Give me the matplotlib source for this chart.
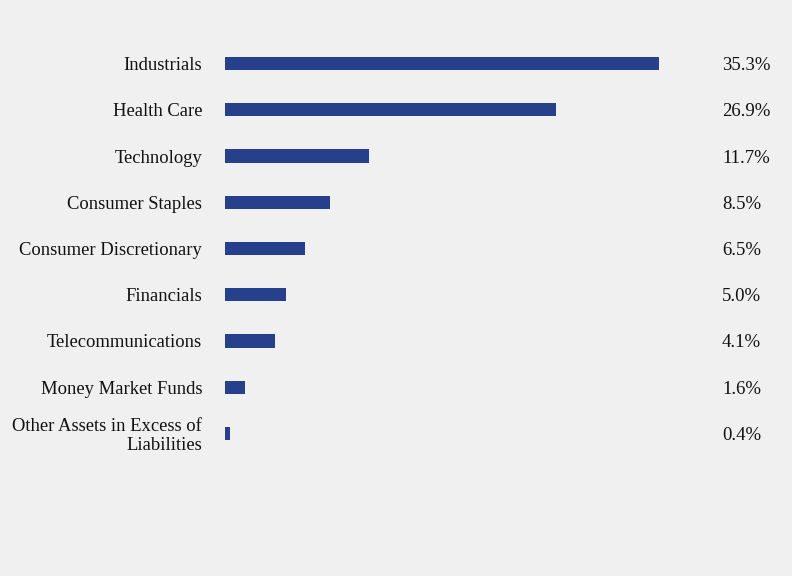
import matplotlib.pyplot as plt
from matplotlib.transforms import blended_transform_factory

# sector weights (% of net assets)
sectors = ["Industrials", "Health Care", "Technology", "Consumer Staples",
           "Consumer Discretionary", "Financials", "Telecommunications",
           "Money Market Funds", "Other Assets in Excess of\nLiabilities"]
weights = [35.3, 26.9, 11.7, 8.5, 6.5, 5.0, 4.1, 1.6, 0.4]
labels = ["35.3%", "26.9%", "11.7%", "8.5%", "6.5%", "5.0%", "4.1%", "1.6%", "0.4%"]

plt.rcParams['font.family'] = ['Liberation Serif', 'DejaVu Serif']

W, H = 792, 576
fig = plt.figure(figsize=(W / 100, H / 100), dpi=100, facecolor="#f0f0f0")
# axes placed in pixel terms: bars from x=225 to 659, rows from y=39.4 to 455.6
ax = fig.add_axes([225 / W, 1 - 456.6 / H, (659 - 225) / W, (456.6 - 40.4) / H])
ax.set_facecolor("#f0f0f0")

pos = list(range(len(sectors)))
ax.barh(pos, weights, height=0.29, color="#26408b")
ax.set_xlim(0, 35.3)
ax.set_ylim(len(sectors) - 0.5, -0.5)

ax.set_yticks(pos)
ax.set_yticklabels(sectors, fontsize=13.4, color="#111111", linespacing=1.15)
ax.tick_params(axis="y", length=0, pad=16.5)
ax.set_xticks([])
for s in ax.spines.values():
    s.set_visible(False)

trans = blended_transform_factory(fig.transFigure, ax.transData)
for p, lab in zip(pos, labels):
    ax.text(722 / W, p, lab, transform=trans,
            ha="left", va="center_baseline", fontsize=13.5, color="#111111")

fig.savefig("out.png", dpi=100, facecolor=fig.get_facecolor())
